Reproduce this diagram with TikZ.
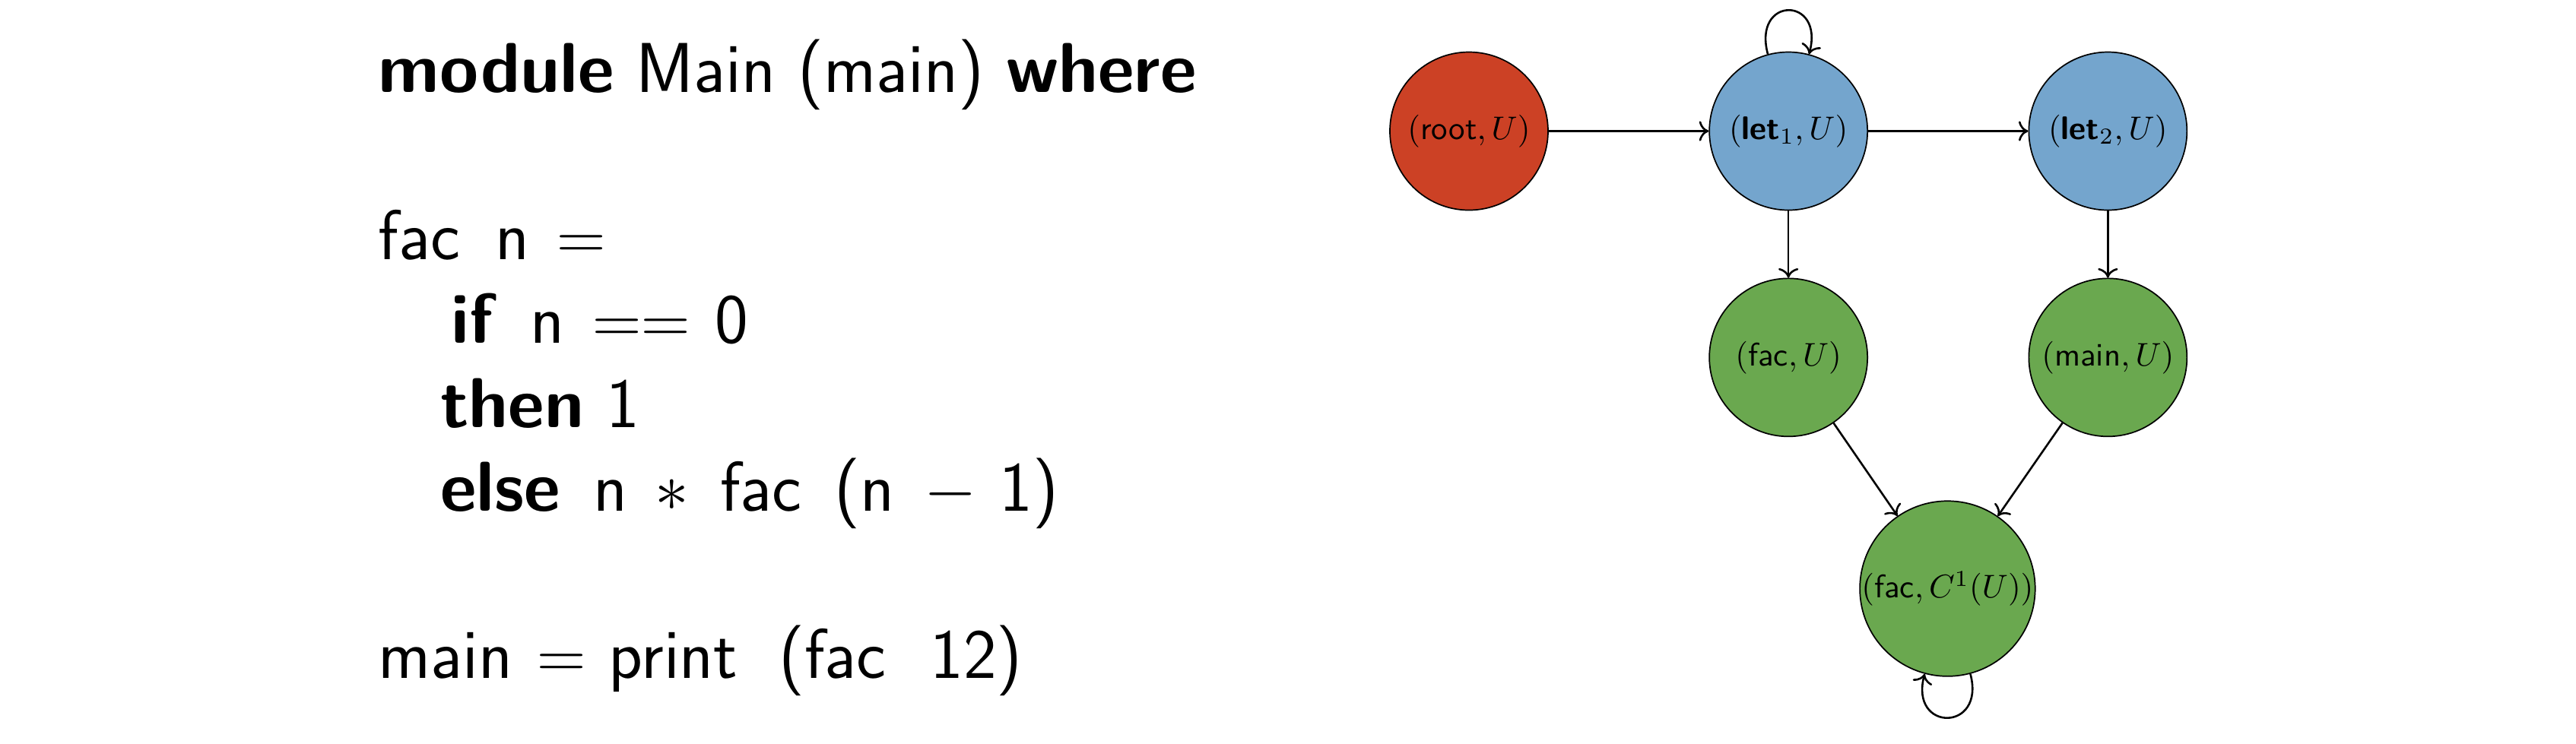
\documentclass[tikz,border=0pt]{standalone}
\usepackage{amsmath}
\usepackage{tikz}
\usetikzlibrary{arrows.meta, positioning}

\definecolor{rootred}{HTML}{CC4125}
\definecolor{letblue}{HTML}{74A5CD}
\definecolor{facgreen}{HTML}{6AA84F}

\newcommand{\gap}[1]{\hspace{#1pt}}

\begin{document}
\begin{tikzpicture}[
        node distance=0.72cm and 1.72cm,
        state/.style={circle, draw, thin, minimum size=1.7cm, inner sep=0pt, align=center, font=\normalsize},
        rootstate/.style={state, fill=rootred},
        letstate/.style={state, fill=letblue},
        facstate/.style={state, fill=facgreen},
        codebox/.style={inner sep=0pt, align=left, font=\fontsize{21.6}{25.6}\selectfont\sffamily},
        arrow/.style={->, semithick},
        selfloop/.style={distance=6.5mm}
    ]

    \useasboundingbox (0,0) rectangle (27.69,-8.0);

    % Source code
    \node[codebox, anchor=north west] (code) at (4.06,-0.419) {%
        \textbf{module} Main (main) \textbf{where}\\[25.6pt]
        fac\gap{10.8}n\gap{8.5}$=$\\
        \hspace{22.3pt}\textbf{if}\gap{10.5}n\gap{8.5}$==$\gap{7.5}0\\
        \hspace{19pt}\textbf{then} 1\\
        \hspace{19pt}\textbf{else}\gap{10}n\gap{8.5}$\ast$\gap{9.5}fac\gap{10}(n\gap{9}$-$\gap{7}1)\\[25.6pt]
        main\gap{7.5}$=$\gap{7}print\gap{12.5}(fac\gap{13.5}12)};

    % Call graph
    \node[rootstate] (root) at (15.79,-1.41) {$(\textsf{root}, U)$};
    \node[letstate, right=of root] (let1) {$(\textsf{\textbf{let}}_1, U)$};
    \node[letstate, right=of let1] (let2) {$(\textsf{\textbf{let}}_2, U)$};
    \node[facstate, below=of let1] (fac) {$(\textsf{fac}, U)$};
    \node[facstate, below=of let2] (main) {$(\textsf{main}, U)$};
    \node[facstate, below=0.68cm of fac, xshift=1.71cm] (facrec) {$(\textsf{fac}, C^1(U))$};

    % Edges
    \draw[arrow] (root) -- (let1);
    \draw[arrow] (let1) -- (let2);
    \draw[arrow] (let1) -- (fac);
    \draw[arrow] (let2) -- (main);
    \draw[arrow] (fac) -- (facrec);
    \draw[arrow] (main) -- (facrec);
    \draw[arrow] (let1) edge[loop above, selfloop] (let1);
    \draw[arrow] (facrec) edge[loop below, selfloop] (facrec);

    \end{tikzpicture}
\end{document}
